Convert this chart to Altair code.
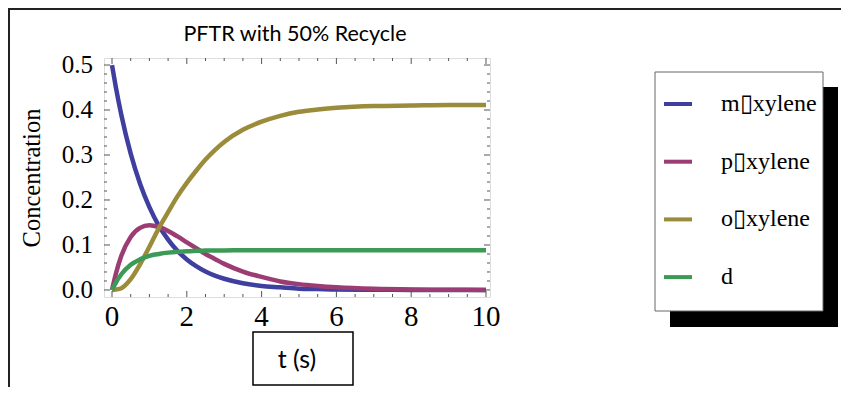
import altair as alt
import pandas as pd

# ---- data ----
t_vals = [0, 0.1, 0.25, 0.5, 0.75, 1.0, 1.25, 1.5, 1.75, 2.0, 2.25, 2.5, 2.75,
          3.0, 3.5, 4.0, 4.5, 5.0, 5.5, 6.0, 7.0, 8.0, 9.0, 10.0]
m_vals = [0.500, 0.452, 0.389, 0.303, 0.236, 0.184, 0.143, 0.112, 0.087, 0.068,
          0.053, 0.041, 0.032, 0.025, 0.015, 0.009, 0.006, 0.003, 0.002, 0.001,
          0.0005, 0.0002, 0.0001, 0.0]
p_vals = [0.000, 0.035, 0.076, 0.118, 0.138, 0.144, 0.140, 0.131, 0.119, 0.106,
          0.093, 0.080, 0.069, 0.058, 0.041, 0.029, 0.019, 0.013, 0.009, 0.006,
          0.0025, 0.001, 0.0005, 0.0002]
o_vals = [0.000, 0.001, 0.004, 0.024, 0.057, 0.096, 0.137, 0.173, 0.208, 0.238,
          0.265, 0.290, 0.311, 0.329, 0.356, 0.374, 0.387, 0.396, 0.401, 0.405,
          0.409, 0.410, 0.411, 0.411]
d_vals = [0.000, 0.016, 0.035, 0.056, 0.068, 0.076, 0.080, 0.083, 0.085, 0.086,
          0.087, 0.0875, 0.088, 0.088, 0.0885, 0.0885, 0.0885, 0.0885, 0.0885,
          0.0885, 0.0885, 0.0885, 0.0885, 0.0885]

series_names = ["m\u25afxylene", "p\u25afxylene", "o\u25afxylene", "d"]
series_colors = ["#3F3FA0", "#9B3C73", "#9B8C3C", "#3D9A56"]

x_major = [0, 2, 4, 6, 8, 10]
x_minor = [0.5, 1, 1.5, 2.5, 3, 3.5, 4.5, 5, 5.5, 6.5, 7, 7.5, 8.5, 9, 9.5]
y_major = [0.0, 0.1, 0.2, 0.3, 0.4, 0.5]
y_minor = [0.02, 0.04, 0.06, 0.08, 0.12, 0.14, 0.16, 0.18, 0.22, 0.24, 0.26,
           0.28, 0.32, 0.34, 0.36, 0.38, 0.42, 0.44, 0.46, 0.48]

title_text = "PFTR with 50% Recycle"
y_title = "Concentration"
x_title = "t (s)"

# ---- layout ----
W, H = 386, 239
FRAME = "#555555"
SERIF = "Liberation Serif"
SANS = "Lato"

df = pd.DataFrame({"t": t_vals, series_names[0]: m_vals, series_names[1]: p_vals,
                   series_names[2]: o_vals, series_names[3]: d_vals})
long = df.melt(id_vars="t", var_name="series", value_name="c")

xs = alt.Scale(domain=[-0.214, 10.107], nice=False, zero=False)
ys = alt.Scale(domain=[-0.0156, 0.5156], nice=False, zero=False)
one = alt.Data(values=[{}])

lines = alt.Chart(long).mark_line(strokeWidth=4.5, interpolate="monotone", clip=True).encode(
    x=alt.X("t:Q", scale=xs, axis=None),
    y=alt.Y("c:Q", scale=ys, axis=None),
    color=alt.Color("series:N", scale=alt.Scale(domain=series_names, range=series_colors), legend=None),
    order=alt.Order("t:Q"),
)

layers = [lines]

def yticks(vals, L):
    d = pd.DataFrame({"v": vals})
    left = alt.Chart(d).mark_rule(color=FRAME, strokeWidth=1).encode(
        y=alt.Y("v:Q", scale=ys, axis=None), x=alt.value(0), x2=alt.value(L))
    right = alt.Chart(d).mark_rule(color=FRAME, strokeWidth=1).encode(
        y=alt.Y("v:Q", scale=ys, axis=None), x=alt.value(W), x2=alt.value(W - L))
    return [left, right]

def xticks(vals, L):
    d = pd.DataFrame({"v": vals})
    bottom = alt.Chart(d).mark_rule(color=FRAME, strokeWidth=1).encode(
        x=alt.X("v:Q", scale=xs, axis=None), y=alt.value(H), y2=alt.value(H - L))
    top = alt.Chart(d).mark_rule(color=FRAME, strokeWidth=1).encode(
        x=alt.X("v:Q", scale=xs, axis=None), y=alt.value(0), y2=alt.value(L))
    return [bottom, top]

layers += yticks(y_major, 6) + yticks(y_minor, 3) + xticks(x_major, 6) + xticks(x_minor, 3)

# tick labels
layers.append(alt.Chart(pd.DataFrame({"v": y_major})).mark_text(
    font=SERIF, fontSize=25, color="black", align="right", baseline="middle").encode(
    y=alt.Y("v:Q", scale=ys, axis=None), x=alt.value(-11), text=alt.Text("v:Q", format=".1f")))
layers.append(alt.Chart(pd.DataFrame({"v": x_major})).mark_text(
    font=SERIF, fontSize=29, color="black", align="center", baseline="middle").encode(
    x=alt.X("v:Q", scale=xs, axis=None), y=alt.value(259), text=alt.Text("v:Q", format="d")))

# title
layers.append(alt.Chart(one).mark_text(font=SANS, fontSize=21.5, color="black", align="center",
                                       baseline="alphabetic", text=title_text).encode(
    x=alt.value(191), y=alt.value(-17)))
# y title
layers.append(alt.Chart(one).mark_text(font=SERIF, fontSize=24.5, color="black", align="center",
                                       baseline="middle", angle=270, text=y_title).encode(
    x=alt.value(-71), y=alt.value(120)))
# x title box + text
layers.append(alt.Chart(one).mark_rect(fill="white", stroke="black", strokeWidth=1.5).encode(
    x=alt.value(149), x2=alt.value(249), y=alt.value(274), y2=alt.value(327)))
layers.append(alt.Chart(one).mark_text(font=SANS, fontSize=25, color="black", align="center",
                                       baseline="middle", text=x_title).encode(
    x=alt.value(193), y=alt.value(302)))

# outer frame (top and left)
layers.append(alt.Chart(one).mark_rule(color="#222222", strokeWidth=2).encode(
    x=alt.value(-96), x2=alt.value(745), y=alt.value(-49)))
layers.append(alt.Chart(one).mark_rule(color="#222222", strokeWidth=2).encode(
    x=alt.value(-95), y=alt.value(-50), y2=alt.value(345)))

# legend: shadow, box, entries
layers.append(alt.Chart(one).mark_rect(fill="black").encode(
    x=alt.value(566), x2=alt.value(734), y=alt.value(29), y2=alt.value(269)))
layers.append(alt.Chart(one).mark_rect(fill="white", stroke="#666666", strokeWidth=1).encode(
    x=alt.value(551), x2=alt.value(719), y=alt.value(14), y2=alt.value(253)))
for i, (name, col) in enumerate(zip(series_names, series_colors)):
    yy = 46 + i * 57.7
    layers.append(alt.Chart(one).mark_rule(color=col, strokeWidth=4).encode(
        x=alt.value(560), x2=alt.value(588), y=alt.value(yy)))
    layers.append(alt.Chart(one).mark_text(font=SERIF, fontSize=24, color="black", align="left",
                                           baseline="middle", text=name).encode(
        x=alt.value(617), y=alt.value(yy)))

chart = alt.layer(*layers).properties(
    width=W, height=H,
    padding={"left": 96, "top": 50, "right": 351, "bottom": 90},
    autosize=alt.AutoSizeParams(type="none"),
).configure_view(stroke=FRAME, strokeWidth=1).configure(background="white")

chart.save("out.html", embed_options={"renderer": "svg", "actions": False})
